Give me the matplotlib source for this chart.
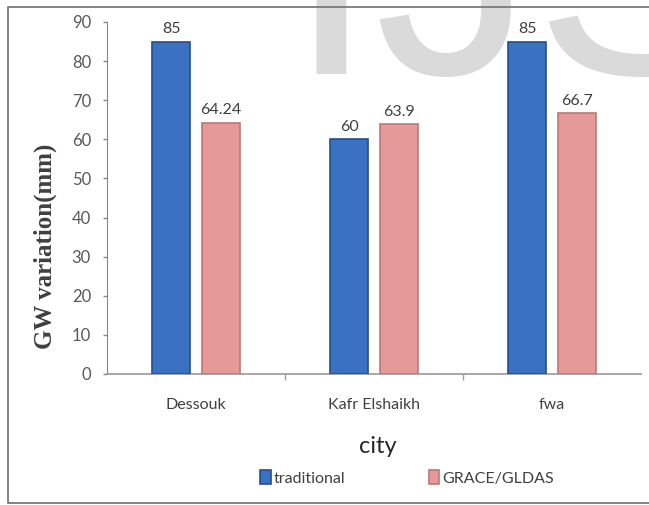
import numpy as np
import matplotlib.pyplot as plt
from matplotlib.lines import Line2D

# GW variation per city
cities = ['Dessouk', 'Kafr Elshaikh', 'fwa']
traditional = [85, 60, 85]
grace_gldas = [64.24, 63.9, 66.7]
series_names = ['traditional', 'GRACE/GLDAS']

lab_font = ['Lato', 'DejaVu Sans']

fig = plt.figure(figsize=(6.49, 5.05), dpi=100)
fig.patch.set_facecolor('white')

# watermark behind everything
fig.text(0.442, 0.8535, 'IJSER', fontsize=230, family='Liberation Sans',
         color='#dadada', va='baseline', ha='left', zorder=0)

# outer chart frame (left, top, bottom)
fx0, fy0, fy1 = 7.5 / 649, 1 - 502.5 / 505, 1 - 6.5 / 505
frame = Line2D([1.01, fx0, fx0, 1.01], [fy1, fy1, fy0, fy0], transform=fig.transFigure,
               color='#7a7a7a', lw=1.3, zorder=2)
fig.add_artist(frame)

ax = fig.add_axes([107 / 649, 1 - 374 / 505, (641 - 107) / 649, (374 - 22) / 505])
ax.set_facecolor('none')

x = np.arange(len(cities))
w = 0.21
off = 0.14
b1 = ax.bar(x - off, traditional, w, color='#3b71c3', edgecolor='#234f8e', lw=1.2,
            label=series_names[0], zorder=3)
b2 = ax.bar(x + off, grace_gldas, w, color='#e59a99', edgecolor='#bb7877', lw=1.2,
            label=series_names[1], zorder=3)

for bars, vals in ((b1, traditional), (b2, grace_gldas)):
    for r, v in zip(bars, vals):
        ax.annotate(f'{v:g}', (r.get_x() + r.get_width() / 2, v), xytext=(0, 4),
                    textcoords='offset points', ha='center', va='bottom',
                    fontsize=11.5, family=lab_font, color='#404040')

ax.set_xlim(-0.5, 2.5)
ax.set_ylim(0, 90)
ax.set_yticks(np.arange(0, 91, 10))
ax.tick_params(axis='y', length=3, width=1, color='#868686', pad=8.5,
               labelsize=12, labelcolor='#595959')
for t in ax.get_yticklabels():
    t.set_family(lab_font)

ax.set_xticks([0.5, 1.5])
ax.set_xticklabels([])
ax.tick_params(axis='x', which='major', length=4, width=1, color='#a0a0a0')
ax.set_xticks(x, minor=True)
ax.set_xticklabels(cities, minor=True)
ax.tick_params(axis='x', which='minor', length=0, pad=17, labelsize=11.5,
               labelcolor='#404040')
for t in ax.get_xticklabels(minor=True):
    t.set_family(lab_font)

for s in ['top', 'right']:
    ax.spines[s].set_visible(False)
ax.spines['left'].set_color('#868686')
ax.spines['bottom'].set_color('#a0a0a0')
ax.spines['bottom'].set_linewidth(1.3)

ax.set_ylabel('GW variation(mm)', fontsize=18, family='Liberation Serif',
              fontweight='bold', color='#404040')
ax.yaxis.set_label_coords(-0.116, 0.364)
ax.yaxis.label.set_va('center')

ax.set_xlabel('city', fontsize=17, family=lab_font, color='#262626')
ax.xaxis.set_label_coords(0.507, -0.207)
ax.xaxis.label.set_va('center')

leg = fig.legend(handles=[b1, b2], loc='center', bbox_to_anchor=(407 / 649, 1 - 478 / 505),
                 ncol=2, frameon=False, handlelength=0.65, handleheight=0.9,
                 handletextpad=0.2, columnspacing=5.2,
                 prop={'family': lab_font, 'size': 11.5})
for t in leg.get_texts():
    t.set_color('#404040')

fig.savefig('out.png', dpi=100)
